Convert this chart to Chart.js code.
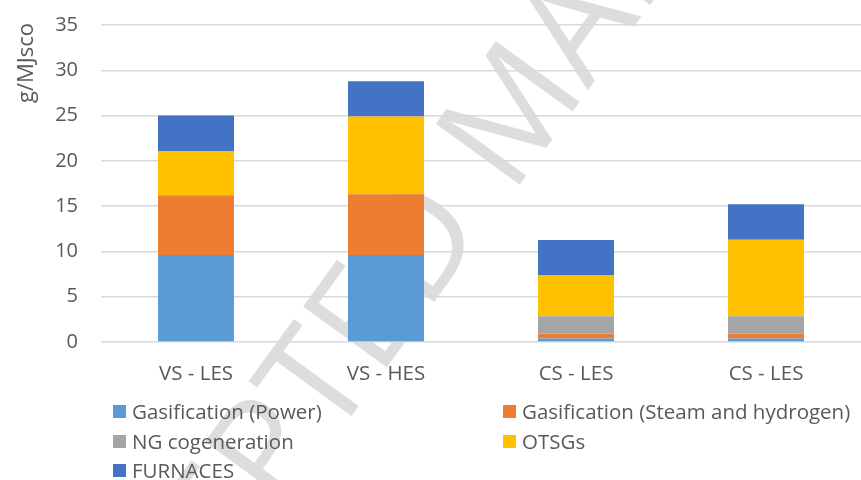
<!DOCTYPE html>
<html>
<head>
<meta charset="utf-8">
<script src="https://cdn.jsdelivr.net/npm/chart.js@4.4.0/dist/chart.umd.min.js"></script>
<style>
    body { margin: 0; background: #fff; }
    #wrap { position: relative; width: 861px; height: 480px; font-family: "Open Sans", sans-serif; }
    #legend { position: absolute; left: 0; top: 0; width: 861px; height: 480px; pointer-events: none; }
    .item { position: absolute; font-size: 20.5px; color: #595959; line-height: 20px; white-space: nowrap; }
    .box { position: absolute; width: 13px; height: 13px; left: -19px; top: 4px; }
</style>
</head>
<body>
<div id="wrap">
    <canvas id="emissionsChart" width="861" height="480"></canvas>
    <div id="legend"></div>
</div>
<script>
// Données du graphique
const categories = ['VS - LES', 'VS - HES', 'CS - LES', 'CS - LES'];
const gasificationPower = [9.6, 9.6, 0.4, 0.4];
const gasificationSteam = [6.6, 6.7, 0.55, 0.55];
const ngCogeneration = [0, 0, 1.9, 1.9];
const otsgs = [4.9, 8.6, 4.5, 8.45];
const furnaces = [3.9, 3.9, 3.9, 3.9];
const yTicks = [0, 5, 10, 15, 20, 25, 30, 35];
const yTitle = 'g/MJsco';

let myChart;

// Filigrane en arrière-plan + titre de l'axe Y
const watermark = {
    id: 'watermark',
    beforeDraw(chart) {
        const ctx = chart.ctx;
        ctx.save();
        ctx.translate(466, 188);
        ctx.rotate(-54 * Math.PI / 180);
        ctx.font = '145px "Open Sans"';
        ctx.fillStyle = '#dddddd';
        ctx.textBaseline = 'middle';
        ctx.textAlign = 'right';
        ctx.fillText('ACCEPTED', -20, 0);
        ctx.textAlign = 'left';
        ctx.fillText('MANUSCRIPT', 20, 0);
        ctx.restore();
    },
    afterDraw(chart) {
        // Titre de l'axe Y, placé en haut comme dans Excel
        const ctx = chart.ctx;
        ctx.save();
        ctx.translate(27, 63);
        ctx.rotate(-Math.PI / 2);
        ctx.font = '22px "Open Sans"';
        ctx.fillStyle = '#595959';
        ctx.textAlign = 'center';
        ctx.textBaseline = 'middle';
        ctx.fillText(yTitle, 0, 0);
        ctx.restore();
    }
};

function createChart() {
    const ctx = document.getElementById('emissionsChart').getContext('2d');
    myChart = new Chart(ctx, {
        type: 'bar',
        data: {
            labels: categories,
            datasets: [
                { label: 'Gasification (Power)', data: gasificationPower, backgroundColor: '#5B9BD5' },
                { label: 'Gasification (Steam and hydrogen)', data: gasificationSteam, backgroundColor: '#ED7D31' },
                { label: 'NG cogeneration', data: ngCogeneration, backgroundColor: '#A5A5A5' },
                { label: 'OTSGs', data: otsgs, backgroundColor: '#FFC000' },
                { label: 'FURNACES', data: furnaces, backgroundColor: '#4472C4' }
            ]
        },
        options: {
            responsive: false,
            animation: false,
            layout: { padding: { top: 25, right: 0, bottom: 0, left: 0 } },
            datasets: { bar: { barPercentage: 0.4, categoryPercentage: 1 } },
            plugins: { legend: { display: false }, tooltip: { enabled: false } },
            scales: {
                x: {
                    stacked: true,
                    grid: { display: false, drawTicks: false },
                    border: { display: false },
                    ticks: { color: '#595959', font: { family: 'Open Sans', size: 20.5 }, padding: 20 },
                    afterFit(scale) { scale.height = 138; scale.paddingLeft = 0; scale.paddingRight = 0; }
                },
                y: {
                    stacked: true,
                    min: 0,
                    max: 35,
                    afterBuildTicks(scale) { scale.ticks = yTicks.map(v => ({ value: v })); },
                    grid: { color: '#d9d9d9', lineWidth: 1.5, drawTicks: false },
                    border: { display: false },
                    ticks: { color: '#595959', font: { family: 'Open Sans', size: 20 }, padding: 23 },
                    afterFit(scale) { scale.width = 101; scale.paddingTop = 0; scale.paddingBottom = 0; }
                }
            }
        },
        plugins: [watermark]
    });

    // Légende en deux colonnes sous le graphique
    const legend = document.getElementById('legend');
    const cols = [132, 522];
    const rows = [401, 431, 460];
    myChart.data.datasets.forEach((ds, i) => {
        const item = document.createElement('div');
        item.className = 'item';
        item.style.left = cols[i % 2] + 'px';
        item.style.top = rows[Math.floor(i / 2)] + 'px';
        item.innerHTML = '<span class="box" style="background:' + ds.backgroundColor + '"></span>' + ds.label;
        legend.appendChild(item);
    });
}

createChart();
</script>
</body>
</html>
